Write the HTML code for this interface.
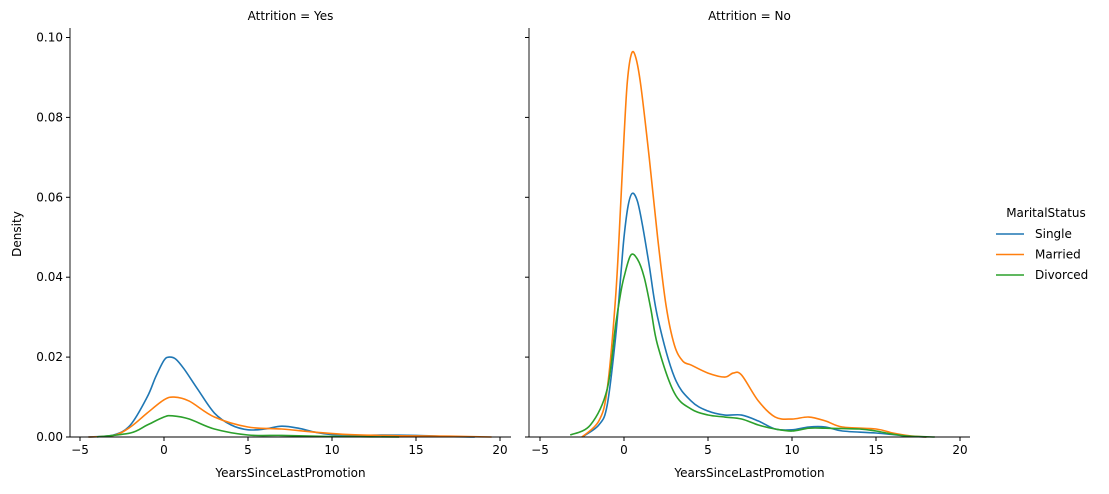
<!DOCTYPE html>
<html><head><meta charset="utf-8"><style>
body{margin:0;background:#fff;font-family:"Liberation Sans","DejaVu Sans",sans-serif}
text{font-family:"DejaVu Sans","Liberation Sans",sans-serif;font-size:12px;fill:#000}
</style></head><body>
<svg id="chart" width="1109" height="489" xmlns="http://www.w3.org/2000/svg"></svg>
<script>
const xTicks=[-5,0,5,10,15,20];
const yTicks=[0,0.02,0.04,0.06,0.08,0.10];
const yTickLabels=["0.00","0.02","0.04","0.06","0.08","0.10"];
const seriesNames=["Single","Married","Divorced"];
const colors=["#1f77b4","#ff7f0e","#2ca02c"];
const panelTitles=["Attrition = Yes","Attrition = No"];
// left panel (Yes)
const yesSingleX=[-4.5,-3,-2,-1,-0.5,0,0.3,0.7,1.2,2,3,4,5,6,7,8,9,10,12,13,15,17,18.5];
const yesSingleY=[0,0.0005,0.003,0.010,0.015,0.0192,0.020,0.0195,0.017,0.012,0.006,0.003,0.0018,0.002,0.0027,0.0022,0.0012,0.0006,0.0004,0.0005,0.0004,0.0001,0];
const yesMarriedX=[-4.5,-3,-2,-1,0,0.6,1.5,3,5,7,9,11,14,17,19.5];
const yesMarriedY=[0,0.0004,0.0025,0.006,0.0093,0.010,0.009,0.005,0.0025,0.002,0.0012,0.0006,0.0003,0.0002,0];
const yesDivorcedX=[-4,-2,-1,0,0.5,1.5,3,5,7,9,11,14];
const yesDivorcedY=[0,0.001,0.003,0.005,0.0053,0.0045,0.002,0.0005,0.0004,0.0002,0.0001,0];
// right panel (No)
const noSingleX=[-2.5,-1.5,-1,-0.5,-0.2,0,0.25,0.5,0.8,1.1,1.5,2,3,4,5,6,7,8,9,10,11,12,13,15,17,18];
const noSingleY=[0,0.003,0.008,0.025,0.04,0.05,0.058,0.061,0.059,0.053,0.043,0.03,0.015,0.009,0.0065,0.0055,0.0055,0.004,0.002,0.0018,0.0025,0.0025,0.0015,0.001,0.0002,0];
const noMarriedX=[-2.5,-1.5,-1,-0.5,-0.2,0,0.2,0.45,0.7,1,1.5,2,2.5,3,3.5,4,5,6,6.5,7,8,9,10,11,12,13,15,16,17,18];
const noMarriedY=[0,0.004,0.012,0.035,0.058,0.075,0.089,0.096,0.095,0.088,0.07,0.05,0.033,0.023,0.019,0.018,0.016,0.015,0.016,0.0155,0.009,0.005,0.0045,0.005,0.004,0.0025,0.002,0.001,0.0003,0];
const noDivorcedX=[-3.2,-2,-1,-0.5,-0.2,0,0.4,0.8,1.2,1.6,2,3,4,5,6,7,8,9,10,11,12,14,15,16,17,18.5];
const noDivorcedY=[0.0005,0.003,0.012,0.028,0.036,0.04,0.0455,0.0445,0.04,0.032,0.023,0.011,0.007,0.0055,0.005,0.0045,0.003,0.002,0.0015,0.0022,0.0022,0.002,0.0015,0.0007,0.0002,0];

const svg=document.getElementById('chart');
const NS="http://www.w3.org/2000/svg";
function mk(t,a,p){const e=document.createElementNS(NS,t);for(const k in a)e.setAttribute(k,a[k]);(p||svg).appendChild(e);return e;}
const panels=[{x0:70,x1:511,zero:164,data:[[yesSingleX,yesSingleY],[yesMarriedX,yesMarriedY],[yesDivorcedX,yesDivorcedY]]},
{x0:529,x1:970,zero:624,data:[[noSingleX,noSingleY],[noMarriedX,noMarriedY],[noDivorcedX,noDivorcedY]]}];
const yTop=28,yBot=437;
function ys(v){return yBot-v*3995;}
function path(pts){let d="M"+pts[0][0]+","+pts[0][1];
for(let i=0;i<pts.length-1;i++){const p0=pts[i-1]||pts[i],p1=pts[i],p2=pts[i+1],p3=pts[i+2]||p2;
const c1=[p1[0]+(p2[0]-p0[0])/6,p1[1]+(p2[1]-p0[1])/6],c2=[p2[0]-(p3[0]-p1[0])/6,p2[1]-(p3[1]-p1[1])/6];
d+=` C${c1[0]},${c1[1]} ${c2[0]},${c2[1]} ${p2[0]},${p2[1]}`;}return d;}
panels.forEach((p,pi)=>{
 const g=mk('g',{});
 
 
 const xs=v=>p.zero+v*16.8;
 p.data.forEach((s,si)=>{
  const pts=s[0].map((x,i)=>[xs(x),ys(s[1][i])]);
  const e=mk('path',{d:path(pts),fill:'none',stroke:colors[si],'stroke-width':1.6,'stroke-linejoin':'round'},g);
  
  
 });
 mk('line',{x1:p.x0,x2:p.x0,y1:yTop,y2:yBot,stroke:'#000','stroke-width':0.9},g);
 mk('line',{x1:p.x0,x2:p.x1,y1:yBot,y2:yBot,stroke:'#000','stroke-width':0.9},g);
 xTicks.forEach(t=>{const x=xs(t);mk('line',{x1:x,x2:x,y1:yBot,y2:yBot+4,stroke:'#000'},g);
  const tx=mk('text',{x:x,y:yBot+17,'text-anchor':'middle'},g);tx.textContent=t<0?'\u2212'+(-t):t;});
 yTicks.forEach((t,i)=>{const y=ys(t);mk('line',{x1:p.x0-4,x2:p.x0,y1:y,y2:y,stroke:'#000'},g);
  if(pi===0){const tx=mk('text',{x:p.x0-7,y:y+4,'text-anchor':'end'},g);tx.textContent=yTickLabels[i];}});
 const xl=mk('text',{x:(p.x0+p.x1)/2,y:477,'text-anchor':'middle'},g);xl.textContent='YearsSinceLastPromotion';
 
 const tt=mk('text',{x:(p.x0+p.x1)/2,y:20,'text-anchor':'middle'},g);tt.textContent=panelTitles[pi];
 
});
const yl=mk('text',{x:21,y:234,'text-anchor':'middle',transform:'rotate(-90 21 234)'});yl.textContent='Density';

const lg=mk('g',{});

const lt=mk('text',{x:1046,y:217,'text-anchor':'middle'},lg);lt.textContent='MaritalStatus';
seriesNames.forEach((n,i)=>{const y=234+i*20.5;
 const le=mk('g',{},lg);
 
 
 mk('line',{x1:996,x2:1024,y1:y,y2:y,stroke:colors[i],'stroke-width':1.6},le);
 const t=mk('text',{x:1035,y:y+4},le);t.textContent=n;});
</script>
</body></html>
